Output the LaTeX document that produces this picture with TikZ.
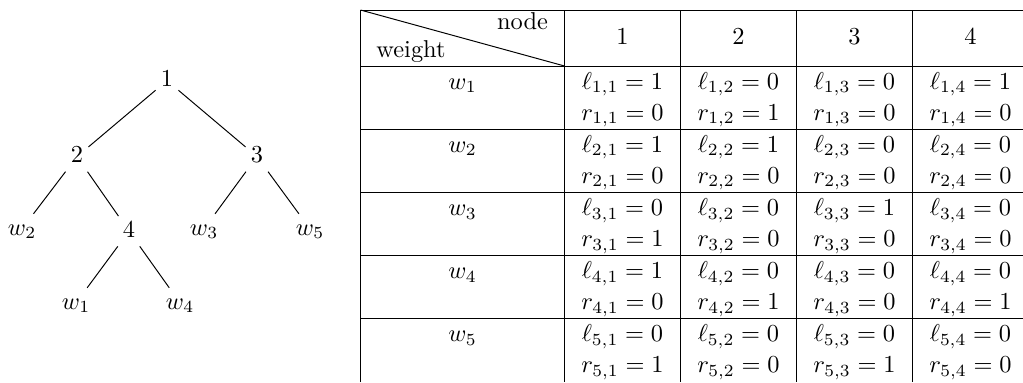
\documentclass[tikz,border=0pt]{standalone}
\begin{document}
\begin{tikzpicture}[x=0.41pt,y=-0.41pt,inner sep=2pt,
  tn/.style={anchor=base,text height=6.5pt,text depth=1.5pt},
  cell/.style={anchor=base,inner sep=0pt}]
\useasboundingbox (0,0) rectangle (1023,382);
\node[tn] (n1) at (167,86.7) {1};
\node[tn] (n2) at (77,162.7) {2};
\node[tn] (n3) at (257,162.7) {3};
\node[tn] (n4) at (129,237.3) {4};
\node[tn] (w2) at (22,235) {$w_2$};
\node[tn] (w3) at (204,235) {$w_3$};
\node[tn] (w5) at (310,235) {$w_5$};
\node[tn] (w1) at (76,309) {$w_1$};
\node[tn] (w4) at (180,309) {$w_4$};
\foreach \a/\b in {n1/n2,n1/n3,n2/w2,n2/n4,n3/w3,n3/w5,n4/w1,n4/w4}
  \draw (\a) -- (\b);
\draw (360.5,382) -- (360.5,10) -- (1023,10);
\foreach \x in {564.5,680.5,796.5,912.5} \draw (\x,10) -- (\x,382);
\foreach \y in {66,129.2,192.4,255.6,318.8} \draw (360.5,\y) -- (1023,\y);
\draw (360.5,10) -- (564.5,66);
\node[cell] (hnode) at (522.5,29.3) {node};
\node[cell] (hweight) at (411,57) {weight};
\foreach \j in {1,...,4}
  \node[cell] (col\j) at ({622.5+116*(\j-1)},44) {\j};
\foreach \k in {1,...,5}
  \node[cell] (wt\k) at (462.5,{89+63.2*(\k-1)}) {$w_\k$};
\foreach \k/\j/\lv/\rv in {1/1/1/0,1/2/0/1,1/3/0/0,1/4/1/0,
  2/1/1/0,2/2/1/0,2/3/0/0,2/4/0/0,
  3/1/0/1,3/2/0/0,3/3/1/0,3/4/0/0,
  4/1/1/0,4/2/0/1,4/3/0/0,4/4/0/1,
  5/1/0/1,5/2/0/0,5/3/0/1,5/4/0/0} {
  \node[cell] (l\k\j) at ({622.5+116*(\j-1)},{89+63.2*(\k-1)}) {$\ell_{\k,\j}=\lv$};
  \node[cell] (r\k\j) at ({622.5+116*(\j-1)},{120+63.2*(\k-1)}) {$r_{\k,\j}=\rv$};
}
\end{tikzpicture}
\end{document}
